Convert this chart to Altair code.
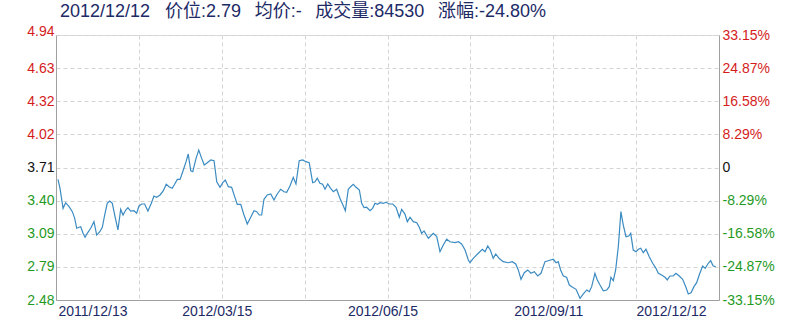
import json
import altair as alt
import pandas as pd

# calendar days since 2011/12/13
days = [
    1.1, 2.2, 3.9, 5.3, 7.2, 9.0, 10.3, 11.4, 12.7, 13.6,
    14.9, 16.0, 17.2, 19.1, 20.9, 22.4, 24.1, 25.5, 26.8, 28.2,
    29.6, 31.0, 32.5, 34.1, 35.6, 36.9, 38.4, 39.6, 41.1, 42.9,
    44.4, 45.7, 47.2, 48.8, 50.6, 52.5, 53.9, 55.4, 57.3, 59.1,
    60.7, 62.2, 64.0, 65.3, 66.8, 68.3, 70.1, 71.6, 72.8, 74.2,
    75.3, 77.1, 78.6, 80.2, 81.6, 83.3, 85.2, 87.0, 88.5, 90.3,
    91.8, 93.2, 94.9, 96.7, 98.5, 99.8, 101.7, 103.5, 105.3, 107.2,
    109.0, 110.5, 111.9, 113.2, 114.5, 116.3, 118.2, 120.0, 121.8, 123.7,
    125.5, 127.0, 128.8, 130.6, 132.1, 133.9, 135.8, 137.6, 139.4, 141.3,
    142.6, 143.8, 145.3, 146.8, 148.1, 149.6, 151.2, 152.7, 154.5, 156.3,
    158.2, 159.3, 160.9, 162.2, 163.7, 165.2, 167.0, 168.3, 169.6, 171.0,
    172.9, 174.3, 175.6, 176.9, 178.4, 180.2, 181.7, 183.5, 185.4, 187.2,
    189.0, 190.3, 192.1, 193.4, 194.9, 196.7, 198.6, 200.0, 201.3, 202.6,
    205.0, 207.7, 209.6, 211.4, 213.2, 215.1, 216.9, 219.7, 221.5, 223.3,
    225.2, 227.0, 227.9, 229.7, 232.5, 234.7, 236.2, 237.7, 239.1, 240.7,
    242.1, 243.9, 246.2, 249.0, 251.2, 253.1, 254.5, 256.0, 257.8, 259.7,
    261.5, 263.3, 265.2, 267.0, 269.2, 271.9, 273.8, 275.3, 276.5, 277.8,
    279.3, 281.1, 282.6, 284.4, 286.3, 288.5, 290.3, 292.2, 293.6, 294.9,
    296.7, 298.0, 299.5, 301.3, 303.2, 304.6, 305.5, 306.8, 308.1, 309.6,
    311.0, 312.3, 313.8, 315.3, 316.4, 317.8, 319.3, 320.6, 321.9, 323.3,
    324.8, 326.6, 328.5, 330.3, 331.6, 333.4, 335.3, 336.5, 338.0, 339.8,
    341.3, 343.1, 345.0, 346.8, 348.1, 349.6, 351.2, 352.7, 354.1, 356.0,
    357.4, 359.1, 360.4, 361.8, 363.2,
]

prices = [
    3.600, 3.517, 3.331, 3.383, 3.346, 3.300, 3.238, 3.146, 3.155, 3.160,
    3.099, 3.062, 3.099, 3.146, 3.207, 3.083, 3.114, 3.155, 3.269, 3.378,
    3.399, 3.378, 3.253, 3.130, 3.322, 3.269, 3.315, 3.337, 3.306, 3.309,
    3.285, 3.353, 3.371, 3.371, 3.306, 3.378, 3.445, 3.433, 3.455, 3.495,
    3.554, 3.532, 3.517, 3.554, 3.600, 3.600, 3.687, 3.764, 3.835, 3.680,
    3.671, 3.795, 3.872, 3.795, 3.733, 3.755, 3.780, 3.773, 3.578, 3.526,
    3.569, 3.594, 3.532, 3.526, 3.433, 3.368, 3.368, 3.269, 3.186, 3.248,
    3.309, 3.300, 3.269, 3.269, 3.415, 3.455, 3.464, 3.408, 3.464, 3.508,
    3.485, 3.480, 3.538, 3.619, 3.557, 3.773, 3.780, 3.764, 3.755, 3.569,
    3.578, 3.610, 3.563, 3.554, 3.508, 3.557, 3.517, 3.485, 3.508, 3.424,
    3.353, 3.309, 3.508, 3.532, 3.554, 3.526, 3.501, 3.378, 3.337, 3.341,
    3.309, 3.331, 3.378, 3.368, 3.383, 3.378, 3.387, 3.371, 3.371, 3.341,
    3.248, 3.322, 3.278, 3.207, 3.248, 3.207, 3.198, 3.155, 3.099, 3.121,
    3.053, 3.099, 3.068, 2.928, 2.991, 3.044, 3.021, 3.012, 3.021, 3.000,
    2.944, 2.851, 2.826, 2.867, 2.914, 2.951, 2.928, 2.981, 2.944, 2.867,
    2.907, 2.867, 2.836, 2.826, 2.836, 2.814, 2.759, 2.672, 2.733, 2.759,
    2.728, 2.743, 2.703, 2.728, 2.836, 2.849, 2.858, 2.826, 2.836, 2.759,
    2.703, 2.691, 2.619, 2.598, 2.579, 2.496, 2.536, 2.573, 2.557, 2.604,
    2.728, 2.666, 2.619, 2.566, 2.573, 2.604, 2.691, 2.659, 2.759, 2.981,
    3.300, 3.176, 3.068, 3.074, 3.099, 2.944, 2.928, 2.951, 2.960, 2.919,
    2.951, 2.882, 2.821, 2.774, 2.728, 2.712, 2.691, 2.666, 2.703, 2.703,
    2.728, 2.703, 2.672, 2.598, 2.536, 2.548, 2.604, 2.641, 2.712, 2.796,
    2.774, 2.821, 2.845, 2.796, 2.790,
]

base_price = 3.71
y_min, y_max = 2.48, 4.94
x_max = 365
y_labels = ["2.48", "2.79", "3.09", "3.40", "3.71", "4.02", "4.32", "4.63", "4.94"]
pct_labels = ["-33.15%", "-24.87%", "-16.58%", "-8.29%", "0",
              "8.29%", "16.58%", "24.87%", "33.15%"]
x_labels = ["2011/12/13", "", "2012/03/15", "", "2012/06/15", "",
            "2012/09/11", "", "2012/12/12"]
title_parts = ["2012/12/12", "价位:2.79", "均价:-", "成交量:84530", "涨幅:-24.80%"]

n = min(len(days), len(prices))
df = pd.DataFrame({"day": days[:n], "price": prices[:n]})

y_step = (y_max - y_min) / 8
x_step = x_max / 8
y_vals = [y_min + i * y_step for i in range(9)]
x_vals = [i * x_step for i in range(9)]

RED = "#d41c1c"
GREEN = "#1f9a1f"
NAVY = "#1c2a66"
FONT = "Liberation Sans, Arial, Noto Sans CJK SC"

label_color = {
    "condition": [
        {"test": f"datum.value > {base_price + 0.01}", "value": RED},
        {"test": f"datum.value < {base_price - 0.01}", "value": GREEN},
    ],
    "value": "#111111",
}

x_label_align = {
    "condition": [
        {"test": "datum.value < 1", "value": "left"},
        {"test": f"datum.value > {x_max - 1}", "value": "right"},
    ],
    "value": "center",
}
x_label_offset = {
    "condition": [
        {"test": "datum.value < 1", "value": 2},
        {"test": f"datum.value > {x_max - 1}", "value": -13},
    ],
    "value": -5,
}

x_enc = alt.X(
    "day:Q",
    scale=alt.Scale(domain=[0, x_max], nice=False, zero=False),
    axis=alt.Axis(
        values=x_vals,
        title=None,
        ticks=False,
        grid=True,
        gridColor="#d4d4d4",
        gridDash=[4, 3],
        domainColor="#a0a0a0",
        labelExpr=f"{json.dumps(x_labels)}[round(datum.value/{x_step})]",
        labelAlign=x_label_align,
        labelOffset=x_label_offset,
        labelColor=NAVY,
        labelFont=FONT,
        labelFontSize=14,
        labelPadding=4,
    ),
)

y_scale = alt.Scale(domain=[y_min, y_max], nice=False, zero=False)

left = alt.Chart(df).mark_line(color="#3b8bc2", strokeWidth=1.2).encode(
    x=x_enc,
    y=alt.Y(
        "price:Q",
        scale=y_scale,
        axis=alt.Axis(
            values=y_vals,
            title=None,
            ticks=False,
            grid=True,
            gridColor="#d4d4d4",
            gridDash=[4, 3],
            domainColor="#a0a0a0",
            labelExpr=f"{json.dumps(y_labels)}[round((datum.value-{y_min})/{y_step})]",
            labelColor=label_color,
            labelBaseline={
                "condition": {"test": f"datum.value > {y_max - 0.05}", "value": "alphabetic"},
                "value": "middle",
            },
            labelFont=FONT,
            labelFontSize=14,
            labelPadding=2,
        ),
    ),
)

right = alt.Chart(df).mark_line(opacity=0).encode(
    x=x_enc,
    y=alt.Y(
        "price:Q",
        scale=y_scale,
        axis=alt.Axis(
            orient="right",
            values=y_vals,
            title=None,
            ticks=False,
            grid=False,
            domainColor="#a0a0a0",
            labelExpr=f"{json.dumps(pct_labels)}[round((datum.value-{y_min})/{y_step})]",
            labelColor=label_color,
            labelFont=FONT,
            labelFontSize=14,
            labelPadding=3,
        ),
    ),
)

gap_first = "\u00a0\u00a0\u00a0"
gap = "\u00a0\u00a0\u2009"
title_text = title_parts[0] + gap_first + gap.join(title_parts[1:])

chart = (
    alt.layer(left, right)
    .resolve_scale(y="independent")
    .properties(
        width=663,
        height=265,
        autosize=alt.AutoSizeParams(type="none"),
        padding={"left": 56, "top": 35, "right": 81, "bottom": 28},
        title=alt.TitleParams(
            text=title_text,
            anchor="start",
            frame="group",
            offset=3,
            dx=4,
            fontSize=18,
            fontWeight="normal",
            color=NAVY,
            font=FONT,
        ),
    )
    .configure_view(stroke="#a0a0a0", strokeWidth=1)
    .configure(background="white")
)

chart.save("out.html", embed_options={"renderer": "svg", "actions": False})
